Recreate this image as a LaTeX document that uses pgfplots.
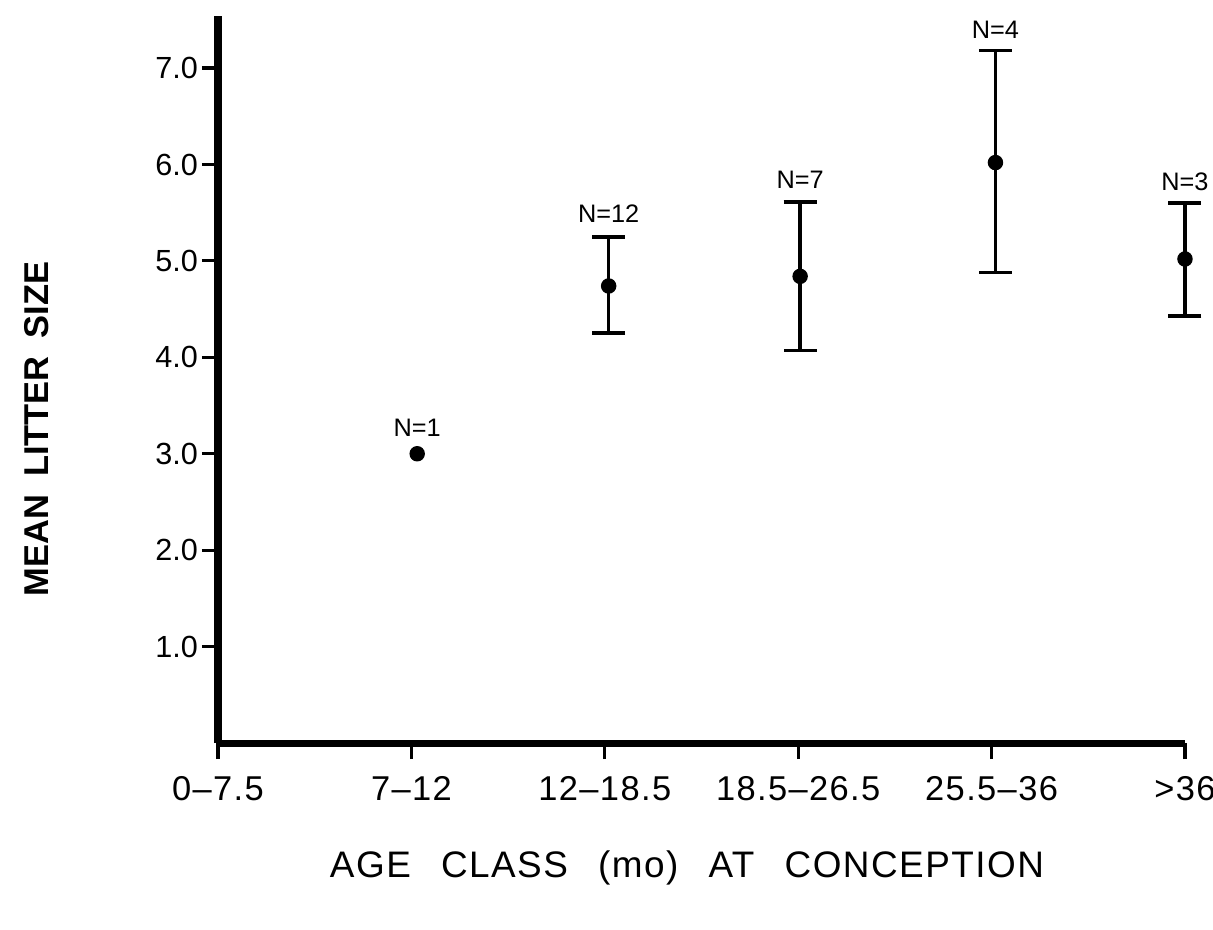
\documentclass[border=0pt]{standalone}
\usepackage{fontspec}
\setmainfont{Liberation Sans}
\newfontfamily\widefont[LetterSpace=4]{Liberation Sans}
\usepackage{pgfplots}
\pgfplotsset{compat=1.18}

\begin{document}
\begin{tikzpicture}
% fix the page to the reference proportions (1 px = 0.1 mm)
\path[use as bounding box] (-2.18,-1.86) rectangle (9.95,7.43);
\begin{axis}[
    scale only axis,
    width=9.67cm, height=7.27cm,
    xmin=0, xmax=5,
    ymin=0, ymax=7.54,
    axis x line*=bottom,
    axis y line*=left,
    axis line style={line width=2pt},
    clip=false,
    xtick={0,1,2,3,4,5},
    xticklabels={0–7.5, 7–12, 12–18.5, 18.5–26.5, 25.5–36, >36},
    ytick={1,2,3,4,5,6,7},
    yticklabels={1.0,2.0,3.0,4.0,5.0,6.0,7.0},
    tick align=outside,
    major tick length=1.6mm,
    tick style={line width=0.9pt, black},
    xticklabel style={font=\widefont\fontsize{9.8}{12}\selectfont, yshift=-0.5mm},
    yticklabel style={font=\fontsize{8.7}{10}\selectfont, inner sep=1pt},
    xlabel={\widefont AGE\hspace{0.5em} CLASS\hspace{0.5em} (mo)\hspace{0.5em} AT\hspace{0.5em} CONCEPTION},
    xlabel style={font=\fontsize{10.5}{12}\selectfont, at={(axis description cs:0.485,-0.172)}, anchor=center},
    ylabel={\bfseries MEAN\hspace{0.25em} LITTER\hspace{0.25em} SIZE},
    ylabel style={font=\fontsize{9.8}{12}\selectfont, at={(axis description cs:-0.188,0.432)}, anchor=center, rotate=0},
]
% single observation, no error bar
\addplot[only marks, mark=*, mark size=2pt, black] coordinates {
    (1.03,3.00)
};
% means with ranges
\addplot[only marks, mark=*, mark size=2pt, black,
    error bars/.cd, y dir=both, y explicit,
    error bar style={line width=1pt, black},
    error mark options={rotate=90, mark size=1.65mm, line width=1pt, black},
] coordinates {
    (2.02,4.74) += (0,0.51) -= (0,0.49)
    (3.01,4.84) += (0,0.77) -= (0,0.77)
    (4.02,6.02) += (0,1.16) -= (0,1.14)
    (5.00,5.02) += (0,0.58) -= (0,0.59)
};
\begin{scope}[every node/.style={font=\fontsize{7.2}{8}\selectfont, anchor=base, inner sep=0pt}]
\node[yshift=1.7mm] at (axis cs:1.03,3.00) {N=1};
\node[yshift=1.4mm] at (axis cs:2.02,5.25) {N=12};
\node[yshift=1.4mm] at (axis cs:3.01,5.61) {N=7};
\node[yshift=1.2mm] at (axis cs:4.02,7.18) {N=4};
\node[yshift=1.3mm] at (axis cs:5.00,5.60) {N=3};
\end{scope}
\end{axis}
\end{tikzpicture}
\end{document}
